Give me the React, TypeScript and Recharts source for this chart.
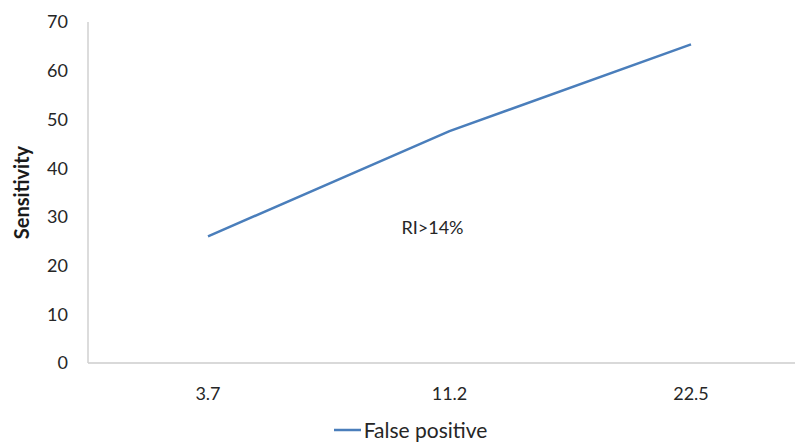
import { LineChart, Line, XAxis, YAxis, Legend, ReferenceDot } from "recharts";

const categories = ["3.7", "11.2", "22.5"];
const falsePositive = [26, 47.6, 65.4];
const yTicks = [0, 10, 20, 30, 40, 50, 60, 70];

const annotationText = "RI>14%";
const annotationAt = { x: "11.2", y: 27.7 };

const data = categories.map((c, i) => ({ name: c, fp: falsePositive[i] }));

const FONT = "Lato, 'Open Sans', sans-serif";
const LINE = "#4a7ebb";

function LegendBox() {
  return (
    <div
      style={{
        display: "flex",
        alignItems: "center",
        justifyContent: "center",
        height: 24,
        lineHeight: "24px",
        paddingLeft: 10,
        fontFamily: FONT,
        fontSize: 21,
        color: "#262626",
      }}
    >
      <svg width={28} height={10} style={{ marginRight: 2 }}>
        <line x1={0} y1={5} x2={27} y2={5} stroke={LINE} strokeWidth={2.5} />
      </svg>
      <span>False positive</span>
    </div>
  );
}

export default function App() {
  return (
    <div
      style={{
        marginLeft: -8,
        marginTop: -8,
        width: 803,
        height: 445,
        overflow: "hidden",
        position: "relative",
        background: "#fff",
      }}
    >
      <LineChart
        width={815}
        height={445}
        data={data}
        margin={{ top: 22, right: 4, left: 0, bottom: 3 }}
      >
        <XAxis
          dataKey="name"
          height={55}
          padding={{ left: 120, right: 120 }}
          tickLine={false}
          tickMargin={18}
          stroke="#d9d9d9"
          strokeWidth={2}
          tick={{ fill: "#262626", fontSize: 18, fontFamily: FONT }}
        />
        <YAxis
          width={88}
          domain={[0, 70]}
          ticks={yTicks}
          tickLine={false}
          tickMargin={14}
          stroke="#d0d0d0"
          strokeWidth={1.5}
          tick={{ fill: "#262626", fontSize: 18, fontFamily: FONT }}
          label={{
            value: "Sensitivity",
            angle: -90,
            position: "center",
            dx: -22,
            style: {
              fontFamily: FONT,
              fontSize: 20,
              fontWeight: 700,
              fill: "#1a1a1a",
            },
          }}
        />
        <Legend verticalAlign="bottom" height={24} content={() => <LegendBox />} />
        <ReferenceDot
          x={annotationAt.x}
          y={annotationAt.y}
          r={0}
          stroke="none"
          label={{
            value: annotationText,
            position: "center",
            dx: -17,
            style: { fontFamily: FONT, fontSize: 18, fill: "#262626" },
          }}
        />
        <Line
          type="linear"
          dataKey="fp"
          name="False positive"
          stroke={LINE}
          strokeWidth={2.5}
          dot={false}
          isAnimationActive={false}
        />
      </LineChart>
    </div>
  );
}
